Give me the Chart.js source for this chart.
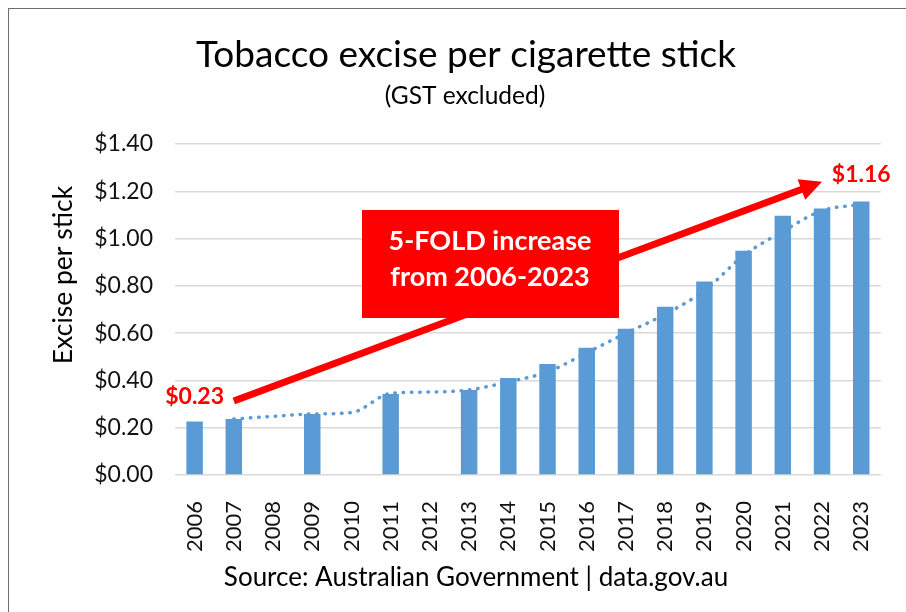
<!DOCTYPE html>
<html lang="en">
<head>
<meta charset="UTF-8">
<title>Tobacco excise per cigarette stick</title>
<script src="https://cdn.jsdelivr.net/npm/chart.js"></script>
<style>
  html, body { margin: 0; padding: 0; background: #fff; }
  #wrap { position: relative; width: 906px; height: 612px; overflow: hidden; }
  #frame { position: absolute; left: 8px; top: 8px; width: 1000px; height: 700px;
           border-left: 1.5px solid #6e6e6e; border-top: 1.5px solid #6e6e6e; }
  canvas { position: absolute; left: 0; top: 0; }
</style>
</head>
<body>
<div id="wrap">
  <div id="frame"></div>
  <canvas id="chart" width="906" height="612"></canvas>
</div>
<script>
// data
const years = ['2006', '2007', '2008', '2009', '2010', '2011', '2012', '2013', '2014',
               '2015', '2016', '2017', '2018', '2019', '2020', '2021', '2022', '2023'];
const excise = [0.226, 0.237, null, 0.258, null, 0.343, null, 0.360, 0.410,
                0.470, 0.538, 0.619, 0.712, 0.818, 0.949, 1.097, 1.127, 1.157];
const trend = [null, 0.237, 0.248, 0.258, 0.264, 0.345, 0.351, 0.360, 0.394,
               0.436, 0.517, 0.600, 0.680, 0.780, 0.928, 1.030, 1.118, 1.144];
const yTicks = [0, 0.2, 0.4, 0.6, 0.8, 1.0, 1.2, 1.4];

// annotation anchors (category, value)
const arrowFrom = ['2007', 0.313];
const arrowTo = ['2022', 1.24];
const startLabel = ['2006', 0.33, '$0.23'];
const endLabel = ['2023', 1.27, '$1.16'];
const boxLines = ['5-FOLD increase', 'from 2006-2023'];

const FONT = 'Lato, "Open Sans", sans-serif';
const BLUE = '#5b9bd5';
const RED = '#ff0000';

const annotations = {
    id: 'annotations',
    afterDatasetsDraw(chart) {
        const ctx = chart.ctx;
        const x = chart.scales.x, y = chart.scales.y;
        const px = c => x.getPixelForValue(years.indexOf(c));

        // arrow
        const x1 = px(arrowFrom[0]), y1 = y.getPixelForValue(arrowFrom[1]);
        const x2 = px(arrowTo[0]), y2 = y.getPixelForValue(arrowTo[1]);
        const ang = Math.atan2(y2 - y1, x2 - x1);
        const headLen = 22, headW = 11;
        const bx = x2 - headLen * Math.cos(ang), by = y2 - headLen * Math.sin(ang);
        ctx.save();
        ctx.strokeStyle = RED;
        ctx.fillStyle = RED;
        ctx.lineWidth = 7;
        ctx.beginPath();
        ctx.moveTo(x1, y1);
        ctx.lineTo(bx + 2 * Math.cos(ang), by + 2 * Math.sin(ang));
        ctx.stroke();
        ctx.beginPath();
        ctx.moveTo(x2, y2);
        ctx.lineTo(bx + headW * Math.sin(ang), by - headW * Math.cos(ang));
        ctx.lineTo(bx - headW * Math.sin(ang), by + headW * Math.cos(ang));
        ctx.closePath();
        ctx.fill();

        // red box
        ctx.fillRect(362, 210, 257, 108);
        ctx.fillStyle = '#fff';
        ctx.font = 'bold 27px ' + FONT;
        ctx.textAlign = 'center';
        ctx.textBaseline = 'middle';
        ctx.fillText(boxLines[0], 490, 241);
        ctx.fillText(boxLines[1], 490, 277);

        // value labels
        ctx.fillStyle = RED;
        ctx.font = 'bold 23px ' + FONT;
        ctx.fillText(startLabel[2], px(startLabel[0]), y.getPixelForValue(startLabel[1]));
        ctx.fillText(endLabel[2], px(endLabel[0]), y.getPixelForValue(endLabel[1]));

        // titles and texts
        ctx.fillStyle = '#000';
        ctx.font = '37px ' + FONT;
        ctx.fillText('Tobacco excise per cigarette stick', 466, 55);
        ctx.font = '24.5px ' + FONT;
        ctx.fillText('(GST excluded)', 465, 96);
        ctx.font = '26px ' + FONT;
        ctx.fillText('Source: Australian Government | data.gov.au', 476, 578);
        ctx.save();
        ctx.translate(63, 275);
        ctx.rotate(-Math.PI / 2);
        ctx.font = '26.5px ' + FONT;
        ctx.fillText('Excise per stick', 0, 0);
        ctx.restore();
        ctx.restore();
    }
};

new Chart(document.getElementById('chart'), {
    type: 'bar',
    data: {
        labels: years,
        datasets: [
            {
                type: 'line',
                data: trend,
                borderColor: BLUE,
                borderWidth: 3.5,
                borderDash: [0.5, 7.8],
                borderCapStyle: 'round',
                cubicInterpolationMode: 'monotone',
                pointRadius: 0,
                fill: false,
                order: 0
            },
            {
                data: excise,
                backgroundColor: BLUE,
                categoryPercentage: 1,
                barPercentage: 0.42,
                order: 1
            }
        ]
    },
    options: {
        responsive: false,
        animation: false,
        layout: { padding: { left: 80, top: 144, right: 13, bottom: 0 } },
        plugins: {
            legend: { display: false },
            tooltip: { enabled: false }
        },
        scales: {
            x: {
                grid: { display: false },
                border: { display: false },
                ticks: {
                    color: '#111',
                    font: { family: FONT, size: 22 },
                    minRotation: 90,
                    maxRotation: 90,
                    padding: 18
                },
                afterFit(s) { s.height = 137; }
            },
            y: {
                min: 0,
                max: 1.4,
                afterBuildTicks(s) { s.ticks = yTicks.map(v => ({ value: v })); },
                grid: { color: '#d9d9d9', lineWidth: 1.5, drawTicks: false },
                border: { display: false },
                ticks: {
                    color: '#111',
                    font: { family: FONT, size: 23 },
                    padding: 22,
                    callback: v => '$' + v.toFixed(2)
                },
                afterFit(s) { s.width = 95; }
            }
        }
    },
    plugins: [annotations]
});
</script>
</body>
</html>
